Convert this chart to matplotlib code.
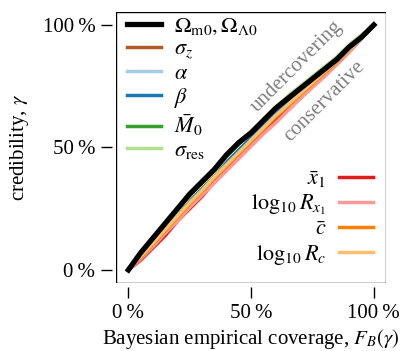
import matplotlib
matplotlib.use("Agg")
import matplotlib.pyplot as plt
import matplotlib.patches as mpatches

plt.rcParams["font.family"] = ["Liberation Serif", "DejaVu Serif"]
plt.rcParams["mathtext.fontset"] = "stix"

coverage = [0, .05, .1, .15, .2, .25, .3, .35, .4, .45, .5, .55, .6, .65, .7, .75, .8, .85, .9, .95, 1]

cred_omega = [0, .07, .13, .19, .25, .31, .36, .41, .47, .52, .56, .61, .66, .70, .74, .78, .82, .86, .91, .95, 1]
cred_sigz = [0, .06, .11, .17, .22, .28, .33, .38, .43, .48, .53, .58, .63, .67, .72, .76, .81, .85, .90, .95, 1]
cred_alpha = [0, .055, .105, .16, .21, .265, .315, .365, .415, .465, .515, .565, .615, .66, .71, .755, .80, .845, .895, .95, 1]
cred_beta = [0, .06, .115, .17, .225, .28, .33, .385, .44, .49, .54, .59, .64, .685, .73, .775, .82, .86, .905, .95, 1]
cred_M0 = [0, .05, .10, .155, .205, .26, .31, .36, .41, .46, .51, .56, .61, .655, .70, .75, .795, .84, .89, .945, 1]
cred_sigres = [0, .06, .12, .18, .24, .30, .35, .40, .46, .51, .56, .61, .66, .71, .75, .79, .83, .87, .92, .96, 1]
cred_x1 = [0, .04, .09, .14, .20, .25, .30, .36, .41, .46, .51, .56, .61, .66, .705, .75, .80, .845, .895, .95, 1]
cred_logRx1 = [0, .045, .095, .15, .20, .255, .305, .355, .405, .455, .505, .555, .60, .65, .70, .745, .79, .84, .89, .945, 1]
cred_c = [0, .05, .105, .16, .215, .27, .32, .375, .425, .475, .525, .575, .625, .67, .715, .76, .805, .85, .90, .95, 1]
cred_logRc = [0, .055, .11, .165, .22, .275, .325, .38, .43, .48, .53, .58, .63, .675, .72, .765, .81, .855, .90, .95, 1]

labels1 = [r"$\Omega_{\mathrm{m}0},\Omega_{\Lambda0}$", r"$\sigma_z$", r"$\alpha$", r"$\beta$", r"$\bar{M}_0$", r"$\sigma_{\mathrm{res}}$"]
labels2 = [r"$\bar{x}_1$", r"$\log_{10}R_{x_1}$", r"$\bar{c}$", r"$\log_{10}R_c$"]
colors1 = ["black", "#b15928", "#a6cee3", "#1f78b4", "#33a02c", "#b2df8a"]
colors2 = ["#e31a1c", "#fb9a99", "#ff7f00", "#fdbf6f"]
series1 = [cred_omega, cred_sigz, cred_alpha, cred_beta, cred_M0, cred_sigres]
series2 = [cred_x1, cred_logRx1, cred_c, cred_logRc]

fig = plt.figure(figsize=(4.06, 3.51), dpi=100)
ax = fig.add_axes([0.286, 0.194, 0.665, 0.772])

h1 = []
for vals, c, lab in zip(series1[1:], colors1[1:], labels1[1:]):
    (l,) = ax.plot(coverage, vals, color=c, lw=2.5, label=lab)
    h1.append(l)
h2 = []
for vals, c, lab in zip(series2, colors2, labels2):
    (l,) = ax.plot(coverage, vals, color=c, lw=2.5, label=lab)
    h2.append(l)
(lb,) = ax.plot(coverage, cred_omega, color="black", lw=3.8, label=labels1[0], zorder=5)
h1 = [lb] + h1

ax.set_xlim(-0.05, 1.05)
ax.set_ylim(-0.053, 1.053)
ticks = [0, 0.5, 1]
ticklabels = ["0\u2009%", "50\u2009%", "100\u2009%"]
ax.set_xticks(ticks)
ax.set_xticklabels(ticklabels)
ax.set_yticks(ticks)
ax.set_yticklabels(ticklabels)
ax.tick_params(direction="out", length=8, width=1, labelsize=15, pad=4)

for s in ax.spines.values():
    s.set_visible(False)
ax.spines["left"].set_position(("outward", 3))
ax.spines["bottom"].set_position(("outward", 3))
ax.add_patch(mpatches.Rectangle((0, 0), 1, 1, transform=ax.transAxes, fill=False, lw=1, ec="black", zorder=10))

ax.set_xlabel(r"Bayesian empirical coverage, $F_B(\gamma)$", fontsize=15, labelpad=3)
ax.set_ylabel(r"credibility, $\gamma$", fontsize=15, labelpad=8)

ax.text(0.685, 0.83, "undercovering", rotation=45, color="gray", fontsize=15, ha="center", va="center", rotation_mode="anchor")
ax.text(0.80, 0.69, "conservative", rotation=45, color="gray", fontsize=15, ha="center", va="center", rotation_mode="anchor")

leg1 = ax.legend(h1, labels1, loc="upper left", bbox_to_anchor=(0, 1.025), frameon=False, fontsize=16,
                 handlelength=1.5, labelspacing=0.1, borderaxespad=0.1, handletextpad=0.6)
ax.add_artist(leg1)
ax.legend(h2, labels2, loc="lower right", bbox_to_anchor=(1, 0.01), frameon=False, fontsize=16,
          handlelength=1.5, labelspacing=0.12, borderaxespad=0.2, handletextpad=0.6, markerfirst=False)

fig.savefig("out.png", dpi=100)
